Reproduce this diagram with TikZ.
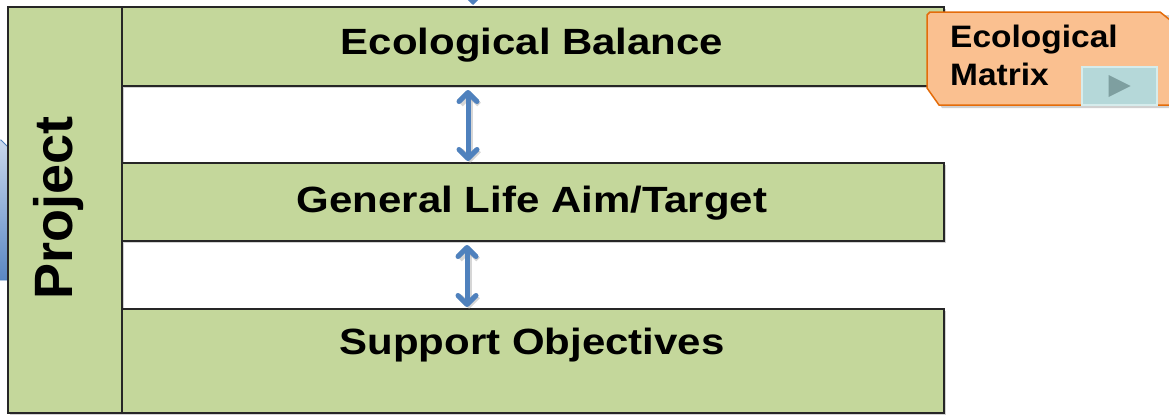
\documentclass[tikz,border=0pt]{standalone}
\usepackage{fontspec}
\usepackage{graphicx}
\setmainfont{Liberation Sans}
\usetikzlibrary{arrows.meta,shadows}
\definecolor{barfill}{HTML}{C4D79B}
\definecolor{frameln}{HTML}{262626}
\definecolor{arrblue}{HTML}{4F81BD}
\definecolor{orfill}{HTML}{FAC090}
\definecolor{orline}{HTML}{E46C0A}
\definecolor{btnfill}{HTML}{B5D8D9}
\definecolor{btnedge}{HTML}{D6ECEC}
\definecolor{btntri}{HTML}{7E9FA0}
\definecolor{bluelight}{HTML}{C9D8EC}
\definecolor{bluedark}{HTML}{5A87C3}
\tikzset{
  bar/.style={draw=frameln, fill=barfill, line width=2pt, inner sep=0pt,
    drop shadow={shadow xshift=1.5pt, shadow yshift=-1.5pt, opacity=0.35}},
  bartext/.style={anchor=base, inner sep=0pt, font=\fontsize{36.5}{40}\selectfont\bfseries},
  mattext/.style={anchor=base west, inner sep=0pt, font=\fontsize{31}{36}\selectfont\bfseries},
  dbl/.style={draw=arrblue, line width=5pt,
    {Straight Barb[length=9pt,width=18pt,line cap=round,line join=round]}-{Straight Barb[length=9pt,width=18pt,line cap=round,line join=round]}},
  dblshadow/.style={draw=gray!70, line width=5pt, opacity=0.45,
    {Straight Barb[length=9pt,width=18pt]}-{Straight Barb[length=9pt,width=18pt]}}
}
\begin{document}
\begin{tikzpicture}[x=1pt,y=-1pt]
\useasboundingbox (0,0) rectangle (1169,418);
\fill[white] (0,0) rectangle (1169,418);
% left blue shape (partially visible)
\shade[top color=bluelight, bottom color=bluedark, draw=arrblue, line width=0.8pt]
  (-20,140) -- (1,140) -- (8,147) -- (8,280) -- (-20,280) -- cycle;
% top blue arrow (only the tip is visible)
\coordinate (topsrc) at (473,-40);
% project column and bars
\node[bar, minimum width=114, minimum height=406] (proj) at (65,210) {};
\node[bar, minimum width=822, minimum height=79] (eb) at (533,46.5) {};
\node[bar, minimum width=822, minimum height=78] (gl) at (533,202) {};
\node[bar, minimum width=822, minimum height=104] (so) at (533,361) {};
\draw[arrblue, line width=4pt, -{Triangle[length=7pt,width=14pt]}] (topsrc) -- ([xshift=-60pt,yshift=1pt]eb.north);
% texts
\node[anchor=base, inner sep=0pt, rotate=90, font=\fontsize{54}{60}\selectfont\bfseries] (projt) at (72,208) {Project};
\node[bartext] (ebt) at (532,54) {\scalebox{1.15}[1]{Ecological Balance}};
\node[bartext] (glt) at (532,212) {\scalebox{1.15}[1]{General Life Aim/Target}};
\node[bartext] (sot) at (532,354) {\scalebox{1.15}[1]{Support Objectives}};
% double arrows
\draw[dblshadow] ([xshift=-63pt,yshift=-5pt]eb.south) -- ([xshift=-63pt,yshift=-1pt]gl.north);
\draw[dbl] ([xshift=-65pt,yshift=-3pt]eb.south) -- ([xshift=-65pt,yshift=1pt]gl.north);
\draw[dblshadow] ([xshift=-64pt,yshift=-5pt]gl.south) -- ([xshift=-64pt,yshift=-1pt]so.north);
\draw[dbl] ([xshift=-66pt,yshift=-3pt]gl.south) -- ([xshift=-66pt,yshift=1pt]so.north);
% orange Ecological Matrix box
\fill[gray!60, opacity=0.6] (930,16) -- (935,15) -- (1175,15) -- (1175,108) -- (942,108) -- (930,91) -- cycle;
\draw[orline, fill=orfill, line width=1.5pt] (927,15) -- (930,12) -- (1160,12) -- (1175,24) -- (1175,105) -- (939,105) -- (927,88) -- cycle;
\node[mattext] (emt1) at (950,47) {\scalebox{1.08}[1]{Ecological}};
\node[mattext] (emt2) at (950,85) {\scalebox{1.08}[1]{Matrix}};
% play button
\node[draw=btnedge, fill=btnfill, line width=1.5pt, minimum width=75, minimum height=38, inner sep=0pt] (btn) at (1119.5,86) {};
\fill[btntri] ([xshift=-11pt,yshift=11pt]btn.center) -- ([xshift=11pt]btn.center) -- ([xshift=-11pt,yshift=-11pt]btn.center) -- cycle;
\end{tikzpicture}
\end{document}
